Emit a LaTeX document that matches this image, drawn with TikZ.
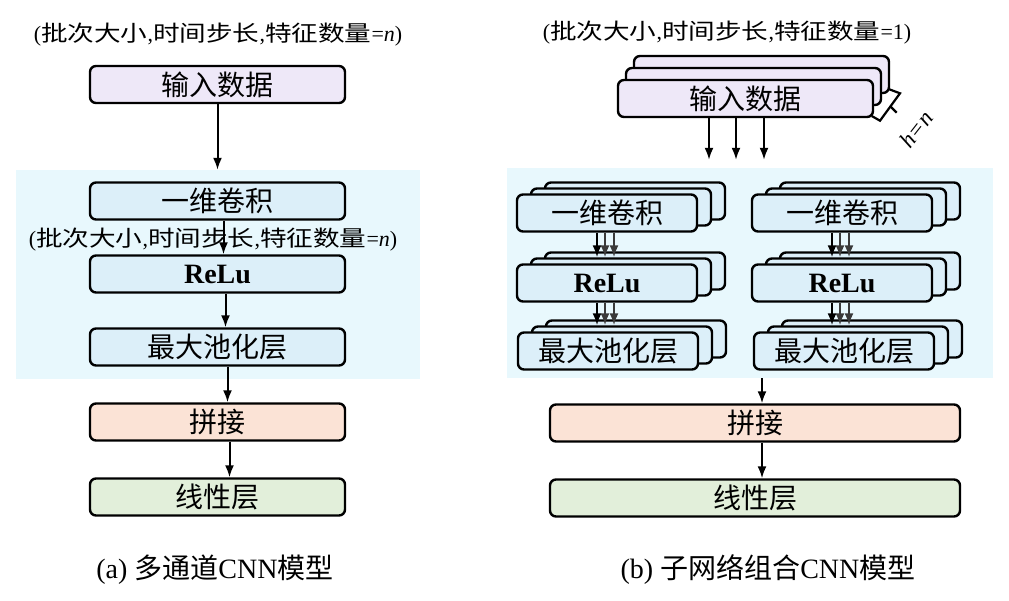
\documentclass[tikz,border=0pt]{standalone}
\usepackage{fontspec}
\setmainfont{Liberation Serif}
\newfontfamily\cjk{Noto Sans CJK SC}
\newfontfamily\cjkw[FakeStretch=1.21]{Noto Sans CJK SC}
\usetikzlibrary{calc,arrows.meta}
\definecolor{lav}{HTML}{EEE8F8}
\definecolor{lblue}{HTML}{DCEFF9}
\definecolor{bgblue}{HTML}{E8F8FD}
\definecolor{peach}{HTML}{FBE3D6}
\definecolor{lgreen}{HTML}{E2EFDA}
\definecolor{dgray}{HTML}{3A3A3A}
\newcommand{\shapelabel}[1]{\fontsize{22}{24}\selectfont(\cjkw 批次大小\rmfamily,\cjkw 时间步长\rmfamily,\cjkw 特征数量\rmfamily=#1)}
\newcommand{\stk}[8]{%
  \node[box, fill=#5, minimum width=#4pt] (#1b2) at (#2+2*#6, #3+2*#7) {};
  \node[box, fill=#5, minimum width=#4pt] (#1b1) at (#2+#6, #3+#7) {};
  \node[box, fill=#5, minimum width=#4pt] (#1) at (#2,#3) {#8};
}
\tikzset{
  box/.style={draw=black, line width=2.4pt, rounded corners=6pt, minimum height=37pt,
    inner sep=0pt, font=\cjk\fontsize{28}{30}\selectfont},
  arr/.style={-{Latex[length=12pt,width=9pt]}, line width=2pt},
  arrg/.style={arr, draw=dgray},
  bgreg/.style={fill=bgblue, draw=none, inner sep=0pt},
  lbl/.style={inner sep=0pt},
  captext/.style={inner sep=0pt, font=\fontsize{28}{30}\selectfont},
}
\begin{document}
\begin{tikzpicture}[x=1pt,y=-1pt]
\useasboundingbox[fill=white] (0,0) rectangle (1009,600);
% ---------------- (a) ----------------
\node[bgreg, minimum width=404pt, minimum height=209pt] (bgA) at (218,274.5) {};
\node[lbl] (labA1) at (218,35) {\shapelabel{\textit{n}}};
\node[lbl] (labA2) at (213,240) {\shapelabel{\textit{n}}};
\node[box, fill=lav, minimum width=255pt] (inA) at (217.5,84.5) {输入数据};
\node[box, fill=lblue, minimum width=255pt] (convA) at (217.5,201) {一维卷积};
\node[box, fill=lblue, minimum width=255pt] (reluA) at (217.5,274) {\rmfamily\bfseries ReLu};
\node[box, fill=lblue, minimum width=255pt] (poolA) at (217.5,347) {最大池化层};
\node[box, fill=peach, minimum width=255pt] (catA) at (217.5,422) {拼接};
\node[box, fill=lgreen, minimum width=255pt] (linA) at (217.5,497) {线性层};
\draw[arr] (inA.south) -- (inA.south |- bgA.north);
\draw[arr] ($(convA.south)+(6,0)$) -- ($(reluA.north)+(6,0)$);
\draw[arr] ($(reluA.south)+(8,0)$) -- ($(poolA.north)+(8,0)$);
\draw[arr] ($(poolA.south)+(10,0)$) -- ($(catA.north)+(10,0)$);
\draw[arr] ($(catA.south)+(12,0)$) -- ($(linA.north)+(12,0)$);
\node[captext] (capA) at (215,570) {(a) {\cjk 多通道}CNN{\cjk 模型}};
% ---------------- (b) ----------------
\node[bgreg, minimum width=486pt, minimum height=210pt] (bgB) at (750,273) {};
\node[lbl] (labB) at (727,33) {\shapelabel{1}};
\stk{inB}{745.5}{98.5}{255}{lav}{8}{-12}{输入数据}
\stk{convL}{607}{213}{180}{lblue}{14}{-6}{一维卷积}
\stk{reluL}{607}{283}{180}{lblue}{14}{-6}{\rmfamily\bfseries ReLu}
\stk{poolL}{608}{351}{180}{lblue}{14}{-6}{最大池化层}
\stk{convR}{842}{213}{180}{lblue}{14}{-6}{一维卷积}
\stk{reluR}{842}{283}{180}{lblue}{14}{-6}{\rmfamily\bfseries ReLu}
\stk{poolR}{844}{351}{180}{lblue}{14}{-6}{最大池化层}
% bracket h=n
\draw[line width=2.2pt] (889.3,89.3) -- (900,93.3) -- (880,120.7) -- (871.7,116);
\draw[line width=2.2pt] (890.7,106.7) -- (896.7,112.7);
\node[lbl, rotate=52, font=\fontsize{23}{24}\selectfont\itshape] (hn) at (916,129) {h=n};
% input arrows
\foreach \dx in {-36.5,-9.5,18.5}
  \draw[arr] ($(inB.south)+(\dx,0)$) -- ($(inB.south |- bgB.north)+(\dx,-8)$);
% stack arrows
\foreach \s/\t in {convL/reluL,reluL/poolL,convR/reluR,reluR/poolR}{
  \draw[arrg] ($(\s.south)+(7,0)$) -- ($(\s.south |- \t b1.north)+(7,0)$);
  \draw[arrg] ($(\s.south)+(-2,0)$) -- ($(\s.south |- \t b1.north)+(-2,0)$);
  \draw[arr] ($(\s.south)+(-10,0)$) -- ($(\s.south |- \t b1.north)+(-10,0)$);
}
\node[box, fill=peach, minimum width=410pt] (catB) at (755,423) {拼接};
\node[box, fill=lgreen, minimum width=410pt] (linB) at (755,498) {线性层};
\draw[arr] ($(catB.north |- bgB.south)+(7,0)$) -- ($(catB.north)+(7,0)$);
\draw[arr] ($(catB.south)+(7,0)$) -- ($(linB.north)+(7,0)$);
\node[captext] (capB) at (768,570) {(b) {\cjk 子网络组合}CNN{\cjk 模型}};
\end{tikzpicture}
\end{document}
